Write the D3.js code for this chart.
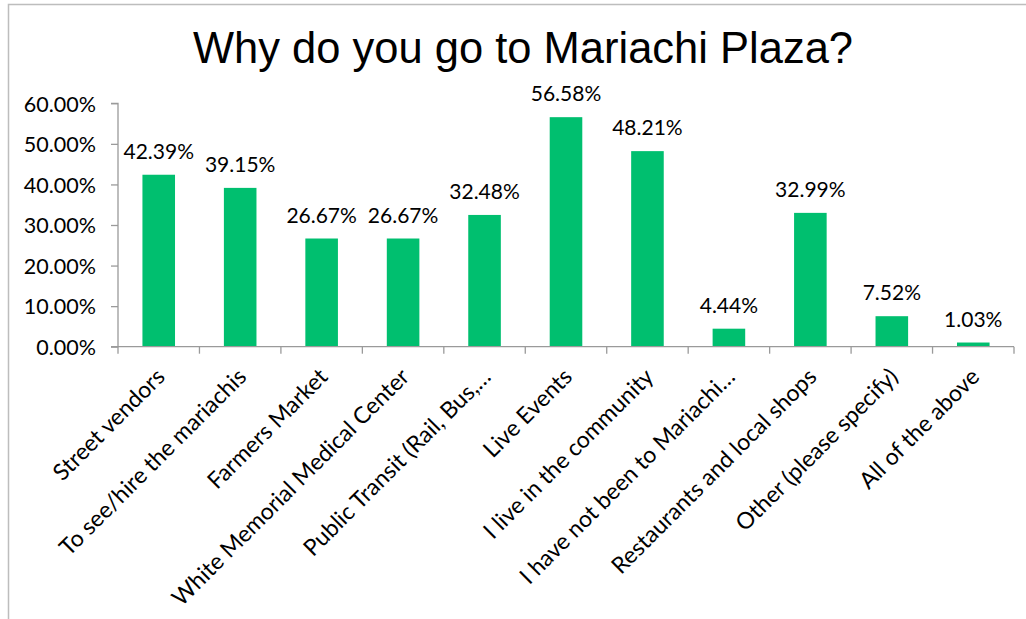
<!DOCTYPE html>
<html>
<head>
<meta charset="utf-8">
<script src="https://cdn.jsdelivr.net/npm/d3@7"></script>
<style>
  body { margin: 0; background: #fff; }
  .graph text { font-family: Lato, "Open Sans", sans-serif; fill: #000; }
</style>
</head>
<body>
<div class="graph"></div>
<script>
// Chart data
var categories = ["Street vendors", "To see/hire the mariachis", "Farmers Market",
  "White Memorial Medical Center", "Public Transit (Rail, Bus,\u2026", "Live Events",
  "I live in the community", "I have not been to Mariachi\u2026",
  "Restaurants and local shops", "Other (please specify)", "All of the above"];
var values = [42.39, 39.15, 26.67, 26.67, 32.48, 56.58, 48.21, 4.44, 32.99, 7.52, 1.03];
var yTicks = [0, 10, 20, 30, 40, 50, 60];
var title = "Why do you go to Mariachi Plaza?";

// Configuration Variables
var W = 1026, H = 619;
var margin = {top: 103.3, left: 118, right: 12, bottom: 272.3},
    width = W - margin.left - margin.right,
    height = H - margin.top - margin.bottom;

var data = categories.map(function(c, i) { return {cat: c, val: values[i]}; });

// Scales
var x = d3.scaleBand()
    .domain(categories)
    .range([0, width])
    .paddingInner(0.6)
    .paddingOuter(0.3);
var y = d3.scaleLinear()
    .domain([0, 60])
    .range([height, 0]);

var root = d3.select(".graph").append("svg")
    .attr("width", W)
    .attr("height", H);

// chart border (only top and left visible)
root.append("path")
    .attr("d", "M8.5,619V4.5H1026")
    .attr("fill", "none")
    .attr("stroke", "#bdbdbd")
    .attr("stroke-width", 1.5);

// Title
root.append("text")
    .attr("x", 523)
    .attr("y", 63)
    .attr("text-anchor", "middle")
    .style("font-family", "'Liberation Sans', Arial, sans-serif")
    .style("font-size", "43.5px")
    .text(title);

var svg = root.append("g")
    .attr("transform", "translate(" + margin.left + "," + margin.top + ")");

// Bars
svg.selectAll(".bar")
    .data(data)
    .enter().append("rect")
    .attr("class", "bar")
    .attr("x", function(d) { return x(d.cat); })
    .attr("y", function(d) { return y(d.val); })
    .attr("width", x.bandwidth())
    .attr("height", function(d) { return height - y(d.val); })
    .style("fill", "#00bf6f");

// Value labels
svg.selectAll(".lbl")
    .data(data)
    .enter().append("text")
    .attr("class", "lbl")
    .attr("x", function(d) { return x(d.cat) + x.bandwidth() / 2; })
    .attr("y", function(d) { return y(d.val) - 16; })
    .attr("text-anchor", "middle")
    .style("font-size", "21px")
    .text(function(d) { return d.val.toFixed(2) + "%"; });

// Y axis
var yAxis = svg.append("g")
    .call(d3.axisLeft(y).tickValues(yTicks).tickSize(7).tickPadding(15)
      .tickFormat(function(d) { return d.toFixed(2) + "%"; }));
yAxis.select(".domain").attr("d", "M-7," + height + "H0V0H-7");
yAxis.selectAll("text").style("font-size", "21.5px").attr("dy", "0.36em");

// X axis: tick marks on band edges
var xAxis = svg.append("g")
    .attr("transform", "translate(0," + height + ")");
xAxis.append("line")
    .attr("x1", 0).attr("x2", width)
    .attr("stroke", "#9a9a9a").attr("stroke-width", 1.3);
var edges = categories.map(function(c) { return x(c) - x.step() * x.paddingInner() / 2; })
  .concat([width]);
xAxis.selectAll(".edge")
    .data(edges)
    .enter().append("line")
    .attr("x1", function(d) { return d; })
    .attr("x2", function(d) { return d; })
    .attr("y2", 7)
    .attr("stroke", "#9a9a9a").attr("stroke-width", 1.3);

xAxis.selectAll(".cat")
    .data(categories)
    .enter().append("text")
    .attr("class", "cat")
    .attr("transform", function(c) {
      return "translate(" + (x(c) + x.bandwidth() / 2 - 4) + ",20) rotate(-45)";
    })
    .attr("text-anchor", "end")
    .attr("dy", "0.71em")
    .style("font-size", "23px")
    .text(function(c) { return c; });

yAxis.selectAll("line").attr("stroke", "#9a9a9a").attr("stroke-width", 1.3);
yAxis.select(".domain").attr("stroke", "#9a9a9a").attr("stroke-width", 1.3);
</script>
</body>
</html>
